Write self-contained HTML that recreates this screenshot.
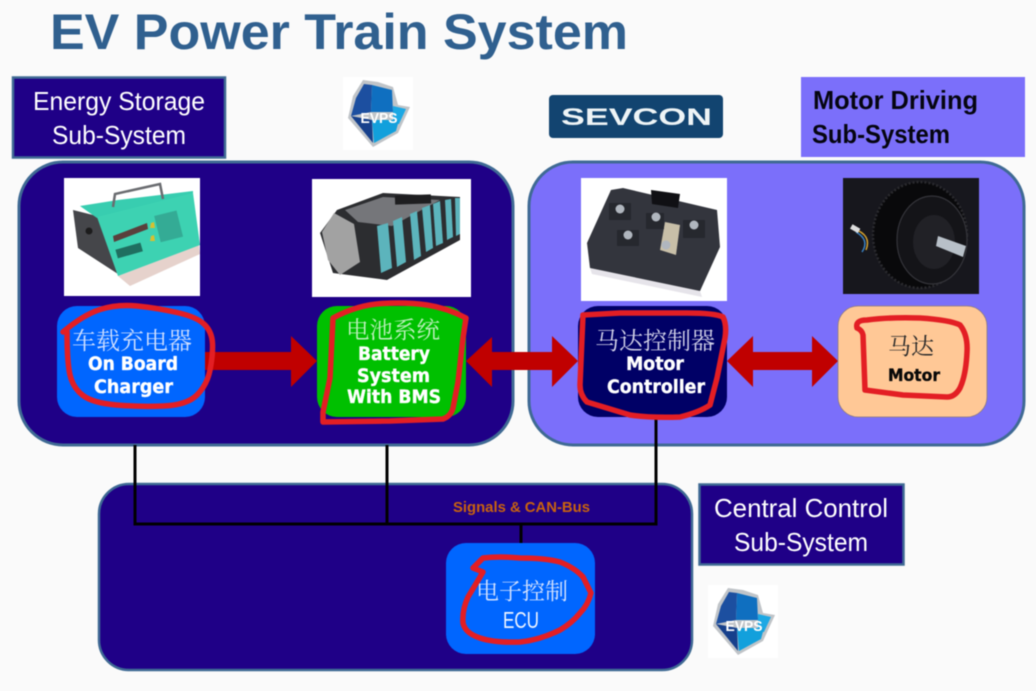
<!DOCTYPE html>
<html lang="en"><head><meta charset="utf-8"><title>EV Power Train System</title>
<style>
html,body{margin:0;padding:0;background:#fafafa;width:1036px;height:691px;overflow:hidden}
svg{display:block;filter:blur(.45px)}
.sans{font-family:"Liberation Sans","DejaVu Sans",sans-serif}
.dv{font-family:"DejaVu Sans","Liberation Sans",sans-serif;font-weight:bold;text-anchor:middle;stroke:currentColor;stroke-width:.35px}
.cjk{font-family:"Liberation Sans","Noto Serif CJK SC",serif;text-anchor:start}
</style></head><body>
<svg width="1036" height="691" viewBox="0 0 1036 691" xmlns="http://www.w3.org/2000/svg">
<rect width="1036" height="691" fill="#fafafa"/>
<text class="sans" x="50" y="49" font-size="50" font-weight="bold" fill="#30608f" textLength="578" lengthAdjust="spacingAndGlyphs">EV Power Train System</text>

<!-- Sub-system labels -->
<rect x="13" y="77.500" width="212" height="80" fill="#1f0087" stroke="#3f6a94" stroke-width="2.500"/>
<text class="sans" x="33" y="110" font-size="26" fill="#fff" textLength="172" lengthAdjust="spacingAndGlyphs">Energy Storage</text>
<text class="sans" x="52" y="144" font-size="26" fill="#fff" textLength="134" lengthAdjust="spacingAndGlyphs">Sub-System</text>
<rect x="801" y="77" width="224" height="80" fill="#7b6ffa"/>
<text class="sans" x="813" y="109" font-size="26" font-weight="bold" fill="#050510" textLength="165" lengthAdjust="spacingAndGlyphs">Motor Driving</text>
<text class="sans" x="812" y="143" font-size="26" font-weight="bold" fill="#050510" textLength="138" lengthAdjust="spacingAndGlyphs">Sub-System</text>

<!-- Logo 1 -->
<rect x="343" y="77" width="70" height="73" fill="#fff"/>
<polygon points="363,80 378,82 393,87 398,105 410,107 398,133 373,147 348,118 353,96" fill="#c0c4c8"/>
<polygon points="364,84 372,85 371,112 351,116 356,98" fill="#1c4fa0"/>
<polygon points="372,85 392,90 393,112 371,112" fill="#0f6fc0"/>
<polygon points="393,106 406,109 399,124 393,124" fill="#1ca8e4"/>
<polygon points="351,116 372,120 373,143" fill="#16408c"/>
<polygon points="372,120 399,120 396,131 374,143" fill="#12a0dc"/>
<text class="sans" x="379" y="123" font-size="15" font-weight="bold" fill="#fff" text-anchor="middle" textLength="37" lengthAdjust="spacingAndGlyphs">EVPS</text>

<rect x="549" y="95" width="174" height="43" rx="4" fill="#124470"/>
<text class="sans" x="636.500" y="125" font-size="24" font-weight="bold" fill="#eef4f6" text-anchor="middle" textLength="151" lengthAdjust="spacingAndGlyphs">SEVCON</text>

<!-- Panels -->
<rect x="19" y="162" width="494" height="283" rx="44" fill="#1f0087" stroke="#3f6a94" stroke-width="3"/>
<rect x="529" y="162" width="495" height="283" rx="44" fill="#7b6ffa" stroke="#3f6a94" stroke-width="3"/>
<rect x="99" y="484" width="593" height="186" rx="30" fill="#1f0087" stroke="#3f6a94" stroke-width="2.500"/>

<rect x="699.500" y="484.500" width="204" height="80" fill="#1f0087" stroke="#3f6a94" stroke-width="2.500"/>
<text class="sans" x="714" y="517" font-size="26" fill="#fff" textLength="174" lengthAdjust="spacingAndGlyphs">Central Control</text>
<text class="sans" x="734" y="551" font-size="26" fill="#fff" textLength="134" lengthAdjust="spacingAndGlyphs">Sub-System</text>

<!-- Charger picture -->
<rect x="64" y="178" width="136" height="118" fill="#fff"/>
<polygon points="118,276 199,245 200,254 130,286" fill="#e6d2cc"/>
<polygon points="73,210 97,216 118,274 78,248" fill="#45464a"/>
<polygon points="80,206 118,200 193,191 193,195 97,218" fill="#38cdb0"/>
<polygon points="97,217 193,193 200,245 118,276" fill="#3dd2b2"/>
<path d="M113 207 L115 194 L160 184 L163 199" fill="none" stroke="#6a6c70" stroke-width="2.500"/>
<polygon points="113,236 147,223 148,229 114,242" fill="#5a3f3c"/>
<rect x="157" y="213" width="23" height="27" fill="#34ab95" transform="rotate(-14 168 226)"/>
<polygon points="151,223 154,222 155,228 150,228" fill="#d8c030"/>
<polygon points="151,236 154,235 155,241 150,241" fill="#d8c030"/>
<circle cx="89" cy="231" r="3.500" fill="#1c1c1c"/>
<g fill="#1f6f60"><rect x="116" y="246" width="26" height="9" transform="rotate(-16 129 250)"/></g>

<!-- Battery picture -->
<rect x="312" y="179" width="159" height="118" fill="#fff"/>
<polygon points="320,233 337,210 383,193 460,197 460,240 387,280 333,273" fill="#2c2d30"/>
<polygon points="322,232 334,213 354,224 360,262 340,275 328,260" fill="#a2a2a2"/>
<polygon points="345,210 383,197 440,200 392,226 358,222" fill="#75767a"/>
<rect x="395" y="195" width="36" height="9" fill="#1e1e20" transform="rotate(-2 413 200)"/>
<g fill="#5cb4bc">
<polygon points="377,226 388,223 392,268 381,273"/>
<polygon points="393,221 402,217 406,262 397,267"/>
<polygon points="410,214 417,211 421,256 414,260"/>
<polygon points="422,208 430,205 433,248 426,252"/>
<polygon points="433,204 440,201 443,243 436,246"/>
<polygon points="445,200 451,199 453,237 447,240"/>
<polygon points="455,198 460,198 460,234 456,236"/>
</g>

<!-- Controller picture -->
<rect x="581" y="178" width="146" height="123" fill="#fff"/>
<polygon points="590,268 700,291 702,297 592,274" fill="#e6e4ea"/>
<polygon points="587,243 611,190 623,188 717,210 720,247 700,291 590,268" fill="#33353d"/>
<polygon points="651,190 680,194 678,208 652,204" fill="#101014"/>
<polygon points="665,222 680,225 676,255 660,250" fill="#c8bfa8"/>
<g fill="#26282e"><rect x="609" y="203" width="22" height="17"/><rect x="646" y="213" width="18" height="16"/><rect x="683" y="220" width="22" height="18"/><rect x="617" y="230" width="22" height="16"/></g>
<g fill="#b0b6be"><circle cx="620" cy="209" r="4.500"/><circle cx="656" cy="217" r="4.500"/><circle cx="694" cy="225" r="4.500"/><circle cx="628" cy="235" r="4.500"/><circle cx="666" cy="245" r="4.500"/></g>

<!-- Motor picture -->
<rect x="843" y="178" width="136" height="116" fill="#17171d"/>
<ellipse cx="920" cy="235" rx="47" ry="53" fill="#09090b" stroke="#2a2a2e" stroke-width="2.500" stroke-dasharray="2 2"/>
<ellipse cx="932" cy="240" rx="35" ry="44" fill="#141418" stroke="#34343a" stroke-width="1.200"/>
<ellipse cx="934" cy="242" rx="21" ry="27" fill="#212126"/>
<polygon points="938,236 966,246 963,257 936,246" fill="#b8c0c8"/>
<path d="M854 229 Q872 235 866 250" fill="none" stroke="#d0a030" stroke-width="1.500"/>
<path d="M856 232 Q870 240 862 252" fill="none" stroke="#3a80c0" stroke-width="1.500"/>
<rect x="851" y="226" width="9" height="5" fill="#ddd" transform="rotate(30 855 228)"/>

<!-- Bus lines -->
<g fill="none" stroke="#000" stroke-width="3">
<path d="M135 445 V524 H656 V417"/>
<path d="M387 445 V524"/>
<path d="M521 524 V543"/>
</g>
<text class="sans" x="453" y="512" font-size="15" font-weight="bold" fill="#c8620f" textLength="137" lengthAdjust="spacingAndGlyphs">Signals &amp; CAN-Bus</text>

<!-- Arrows -->
<g fill="#c00000">
<polygon points="205,352 291,352 291,336 317,361 291,387 291,370 205,370"/>
<polygon points="466,361 492,337 492,352 552,352 552,336 578,361 552,387 552,370 492,370 492,387"/>
<polygon points="727,361 753,336 753,352 812,352 812,336 838,361 812,387 812,370 753,370 753,387"/>
</g>

<!-- Boxes -->
<rect x="57" y="306" width="148" height="111" rx="20" fill="#0066ff"/>
<rect x="317" y="306" width="149" height="111" rx="20" fill="#00c000"/>
<rect x="578" y="306" width="149" height="111" rx="20" fill="#000066"/>
<rect x="838" y="306" width="149" height="111" rx="20" fill="#ffc896" stroke="#8c7a80" stroke-width="0.800"/>
<rect x="446" y="543" width="149" height="111" rx="20" fill="#0066ff"/>

<!-- Box text -->
<text class="cjk" x="72" y="349" font-size="24" fill="#cfdfff" textLength="120">车载充电器</text>
<text class="dv" x="133" y="370" font-size="19" fill="#fff" color="#fff" textLength="90" lengthAdjust="spacingAndGlyphs">On Board</text>
<text class="dv" x="133.500" y="393" font-size="19" fill="#fff" color="#fff" textLength="79" lengthAdjust="spacingAndGlyphs">Charger</text>

<text class="cjk" x="346" y="338" font-size="23.500" fill="#bdf0bd" textLength="94">电池系统</text>
<text class="dv" x="394" y="360" font-size="19" fill="#fff" color="#fff" textLength="72" lengthAdjust="spacingAndGlyphs">Battery</text>
<text class="dv" x="393.500" y="382" font-size="19" fill="#fff" color="#fff" textLength="73" lengthAdjust="spacingAndGlyphs">System</text>
<text class="dv" x="394" y="403" font-size="19" fill="#fff" color="#fff" textLength="94" lengthAdjust="spacingAndGlyphs">With BMS</text>

<text class="cjk" x="595" y="349" font-size="24" fill="#d0d0e8" textLength="120">马达控制器</text>
<text class="dv" x="655" y="370" font-size="19" fill="#fff" color="#fff" textLength="58" lengthAdjust="spacingAndGlyphs">Motor</text>
<text class="dv" x="656" y="393" font-size="19" fill="#fff" color="#fff" textLength="98" lengthAdjust="spacingAndGlyphs">Controller</text>

<text class="cjk" x="888" y="354" font-size="23" fill="#2a2a2a" textLength="46">马达</text>
<text class="dv" x="914" y="381" font-size="16.500" fill="#080808" color="#080808" textLength="52" lengthAdjust="spacingAndGlyphs">Motor</text>

<text class="cjk" x="476" y="599" font-size="23" fill="#d4e2ff" textLength="92">电子控制</text>
<text class="sans" x="521" y="628" font-size="23" fill="#eef4ff" text-anchor="middle" textLength="36" lengthAdjust="spacingAndGlyphs">ECU</text>

<!-- Hand-drawn marks -->
<g fill="none" stroke="#e31e24" stroke-width="5.500" stroke-linecap="round" stroke-linejoin="round">
<path d="M63 332 Q83 315 100 309.500 Q117 304 137 306 Q157 308 177 312.500 Q197 317 204.500 324.500 Q212 332 212.500 343.500 Q213 355 210 370 Q207 385 197 395 Q187 405 163.500 406 Q140 407 116.500 405 Q93 403 83 395.500 Q73 388 70 375 Q67 362 67 332"/>
<path d="M333 318 Q357 305 382 303.500 Q407 302 427 305 Q447 308 466 318 L463 338 L458 382 L453 408 Q451 416 443 419 L390 421 L323 422 L323 412 L330 378 L332 338 Z"/>
<path d="M583 315 L620 313 L687 313 Q715 313 723 317 Q727 325 725 338 L717 378 L710 405 Q700 412 680 417 Q650 418 630 415 L587 402 Q580 395 580 385 L582 338 Z"/>
<path d="M857 328 Q855 320 867 320 Q890 317 920 318 Q950 320 960 325 Q968 335 967 352 Q966 375 960 388 Q955 397 947 397 L903 395 L865 390 L863 335 Q862 330 857 328"/>
<path d="M473 568 L483 558 Q500 556 520 558 Q545 558 560 562 Q575 568 583 577 L591 593 Q588 605 580 613 Q572 623 560 630 Q540 640 520 642 Q495 643 480 638 Q465 633 463 623 Q462 610 468 597 L483 572 Z"/>
</g>

<!-- Logo 2 -->
<rect x="708" y="585" width="70" height="73" fill="#fff"/>
<polygon points="728,588 743,590 758,595 763,613 775,615 763,641 738,655 713,626 718,604" fill="#c0c4c8"/>
<polygon points="729,592 737,593 736,620 716,624 721,606" fill="#1c4fa0"/>
<polygon points="737,593 757,598 758,620 736,620" fill="#0f6fc0"/>
<polygon points="758,614 771,617 764,632 758,632" fill="#1ca8e4"/>
<polygon points="716,624 737,628 738,651" fill="#16408c"/>
<polygon points="737,628 764,628 761,639 739,651" fill="#12a0dc"/>
<text class="sans" x="744" y="631" font-size="15" font-weight="bold" fill="#fff" text-anchor="middle" textLength="37" lengthAdjust="spacingAndGlyphs">EVPS</text>
</svg>
</body></html>
